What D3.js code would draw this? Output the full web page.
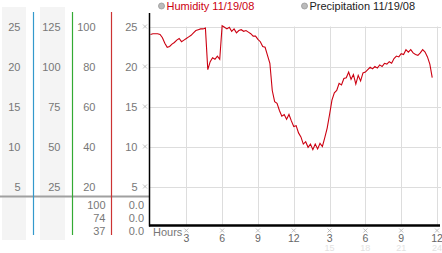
<!DOCTYPE html>
<html>
<head>
<meta charset="utf-8">
<script src="https://cdn.jsdelivr.net/npm/d3@7"></script>
<style>
  body { margin: 0; background: #fff; }
  svg { display: block; font-family: "Liberation Sans", Arial, sans-serif; }
</style>
</head>
<body>
<script>
// humidity readings, one every 0.2 h starting at midnight
var humidity = [
  24.0, 24.1, 24.1, 24.1, 24.0, 23.6, 22.9, 22.4, 22.5, 22.8,
  23.0, 23.3, 23.5, 23.1, 23.3, 23.5, 23.7, 23.9, 24.2, 24.5,
  24.6, 24.7, 24.7, 24.8, 19.6, 20.6, 21.1, 20.9, 21.3, 20.9,
  25.1, 24.9, 24.7, 24.9, 24.4, 24.7, 24.2, 24.5, 24.6, 24.4,
  24.5, 24.3, 24.1, 23.8, 23.8, 23.4, 23.1, 22.5, 22.4, 21.4,
  20.4, 17.0, 15.6, 15.4, 14.5, 13.8, 14.0, 13.4, 14.0, 13.2,
  12.5, 12.6, 11.7, 11.2, 10.3, 10.6, 9.9, 10.3, 9.6, 10.3,
  9.7, 10.4, 10.0, 11.1, 12.3, 14.0, 15.8, 16.7, 17.0, 17.9,
  17.7, 18.5, 18.6, 19.3, 18.4, 19.0, 17.8, 18.9, 18.2, 19.2,
  19.3, 19.6, 19.9, 19.7, 20.0, 19.8, 20.2, 20.0, 20.4, 20.3,
  20.6, 20.4, 21.0, 21.3, 21.2, 21.6, 21.5, 22.1, 21.8, 22.1,
  21.7, 21.5, 21.4, 21.7, 22.1, 21.8, 21.2, 20.3, 18.6
];
var sampleStep = 0.2;

var yTicks = [5, 10, 15, 20, 25];
var col1Labels = [5, 10, 15, 20, 25];
var col2Labels = [25, 50, 75, 100, 125];
var col3Labels = [20, 40, 60, 80, 100];
var col4Labels = [5, 10, 15, 20, 25];
var tableCol3 = ["100", "74", "37"];
var tableCol4 = ["0.0", "0.0", "0.0"];
var hourTicks = [3, 6, 9, 12, 15, 18, 21, 24];
var hourLabels = ["3", "6", "9", "12", "3", "6", "9", "12"];
var hourLabels24 = ["", "", "", "", "15", "18", "21", "24"];

var w = 442, h = 253;
var svg = d3.select("body").append("svg").attr("width", w).attr("height", h);

var x = d3.scaleLinear().domain([0, 24]).range([150.5, 437]);
var y = d3.scaleLinear().domain([0, 25]).range([226.5, 26.5]);
var y2 = d3.scaleLinear().domain([0, 125]).range([226.5, 26.5]);
var y3 = d3.scaleLinear().domain([0, 100]).range([226.5, 26.5]);

// little dotted "x" marker used beside tick labels
function marker(g, cx, cy) {
  var m = g.append("g").attr("transform", "translate(" + cx + "," + cy + ")")
    .attr("stroke", "#b0b0b0").attr("stroke-width", 0.8);
  m.append("line").attr("x1", -2).attr("y1", -2).attr("x2", 2).attr("y2", 2);
  m.append("line").attr("x1", -2).attr("y1", 2).attr("x2", 2).attr("y2", -2);
}

// left panel column backgrounds
svg.append("rect").attr("x", 2).attr("y", 7).attr("width", 24).attr("height", 233).attr("fill", "#f4f4f4");
svg.append("rect").attr("x", 40).attr("y", 7).attr("width", 25).attr("height", 233).attr("fill", "#f4f4f4");

// horizontal divider
svg.append("line").attr("x1", 0).attr("x2", 149).attr("y1", 196.5).attr("y2", 196.5)
  .attr("stroke", "#a0a0a0").attr("stroke-width", 2);

// coloured column rules
[[33.5, "#3399cc"], [72.5, "#33aa33"], [111.5, "#cc3333"]].forEach(function(c) {
  svg.append("line").attr("x1", c[0]).attr("x2", c[0]).attr("y1", 12).attr("y2", 235)
    .attr("stroke", c[1]).attr("stroke-width", 1.2);
});

function colLabels(vals, scale, xr) {
  svg.append("g").selectAll("text").data(vals).enter().append("text")
    .attr("x", xr).attr("y", function(d) { return scale(d) + 4; })
    .attr("text-anchor", "end").attr("font-size", 11).attr("fill", "#777")
    .text(function(d) { return d; });
}
colLabels(col1Labels, y, 20.5);
colLabels(col2Labels, y2, 60.5);
colLabels(col3Labels, y3, 95.5);
colLabels(col4Labels, y, 137.5);

// small table below the divider
var rowY = [209, 222, 235];
svg.append("g").selectAll("text").data(tableCol3).enter().append("text")
  .attr("x", 105.5).attr("y", function(d, i) { return rowY[i]; })
  .attr("text-anchor", "end").attr("font-size", 11).attr("fill", "#777").text(function(d) { return d; });
svg.append("g").selectAll("text").data(tableCol4).enter().append("text")
  .attr("x", 144).attr("y", function(d, i) { return rowY[i]; })
  .attr("text-anchor", "end").attr("font-size", 11).attr("fill", "#777").text(function(d) { return d; });

// tick markers next to y labels
var ym = svg.append("g");
yTicks.forEach(function(d) { marker(ym, 145, y(d)); });

// gridlines
svg.append("g").selectAll("line").data(yTicks).enter().append("line")
  .attr("x1", 150).attr("x2", 441).attr("y1", function(d) { return Math.round(y(d)) + 0.5; })
  .attr("y2", function(d) { return Math.round(y(d)) + 0.5; })
  .attr("stroke", "#ddd");
svg.append("g").selectAll("line").data(hourTicks).enter().append("line")
  .attr("x1", function(d) { return Math.round(x(d)) + 0.5; })
  .attr("x2", function(d) { return Math.round(x(d)) + 0.5; })
  .attr("y1", y(25)).attr("y2", y(0))
  .attr("stroke", "#ddd");

// humidity line
var line = d3.line()
  .x(function(d, i) { return x(i * sampleStep); })
  .y(function(d) { return y(d); });
svg.append("path").datum(humidity).attr("d", line)
  .attr("fill", "none").attr("stroke", "#cc0011").attr("stroke-width", 1.1);

// axes
svg.append("line").attr("x1", 149.5).attr("x2", 149.5).attr("y1", 13).attr("y2", 226.5)
  .attr("stroke", "#000").attr("stroke-width", 1.5);
svg.append("line").attr("x1", 149).attr("x2", 440).attr("y1", 225.5).attr("y2", 225.5)
  .attr("stroke", "#000").attr("stroke-width", 2.5);

// x labels
svg.append("text").attr("x", 153).attr("y", 236).attr("font-size", 11).attr("fill", "#777").text("Hours");
var xm = svg.append("g");
hourTicks.forEach(function(d) { marker(xm, x(d), 230.5); });
var xl = svg.append("g").selectAll("g").data(hourTicks).enter().append("g");
xl.append("text").attr("x", function(d) { return x(d); }).attr("y", 241.5)
  .attr("text-anchor", "middle").attr("font-size", 10.5).attr("fill", "#666")
  .text(function(d, i) { return hourLabels[i]; });
xl.append("text").attr("x", function(d) { return x(d); }).attr("y", 251)
  .attr("text-anchor", "middle").attr("font-size", 9).attr("fill", "#e2e2e2")
  .text(function(d, i) { return hourLabels24[i]; });

// legend
var legend = [["Humidity 11/19/08", "#cc0011", 161.5], ["Precipitation 11/19/08", "#222", 304.5]];
legend.forEach(function(l) {
  svg.append("circle").attr("cx", l[2]).attr("cy", 6).attr("r", 3)
    .attr("fill", "#bbb").attr("stroke", "#999").attr("stroke-width", 0.8);
  svg.append("text").attr("x", l[2] + 5).attr("y", 10).attr("font-size", 11)
    .attr("fill", l[1]).text(l[0]);
});
</script>
</body>
</html>
